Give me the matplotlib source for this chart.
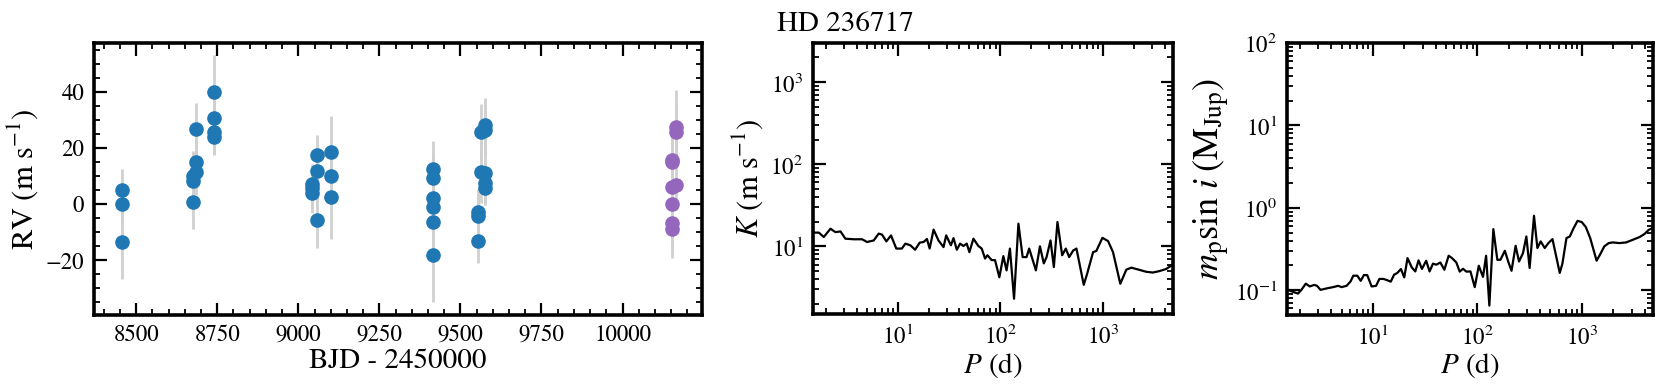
import numpy as np
import matplotlib
matplotlib.use('Agg')
import matplotlib.pyplot as plt
from matplotlib.ticker import MultipleLocator

plt.rcParams['font.family'] = 'serif'
plt.rcParams['font.serif'] = ['STIXGeneral', 'Liberation Serif', 'DejaVu Serif']
plt.rcParams['mathtext.fontset'] = 'stix'

# RV data, instrument 1 (blue)
t_1 = [8455, 8455, 8455,
       8676, 8676, 8676, 8686, 8686, 8686,
       8740, 8740, 8740, 8740,
       9043, 9043, 9043, 9059, 9059, 9059, 9102, 9102, 9102,
       9415, 9415, 9415, 9415, 9415, 9415,
       9555, 9555, 9555, 9565, 9565, 9575, 9575, 9575, 9575, 9575]
rv_1 = [4.9, 0.0, -13.5,
        0.7, 8.4, 9.9, 26.8, 14.9, 11.4,
        40.1, 30.6, 25.8, 23.9,
        7.3, 5.7, 3.9, 17.6, 12.0, -5.6, 18.6, 10.2, 2.7,
        12.6, 9.3, 2.1, -1.1, -6.4, -18.1,
        -2.6, -4.1, -13.1, 11.6, 25.9, 28.3, 26.5, 11.1, 7.5, 5.7]
err_1 = [7.5, 7.0, 13.0,
         9.5, 9.0, 9.2, 9.4, 8.0, 8.0,
         13.0, 9.0, 8.0, 6.5,
         7.0, 7.0, 7.0, 7.0, 8.0, 10.0, 12.7, 10.0, 15.0,
         10.0, 9.0, 9.0, 9.0, 12.0, 16.7,
         8.0, 8.0, 8.0, 11.0, 10.0, 9.6, 9.0, 8.0, 7.0, 6.0]

# RV data, instrument 2 (purple)
t_2 = [10151, 10151, 10151, 10151, 10151, 10151, 10165, 10165, 10165]
rv_2 = [15.8, 15.2, 6.3, 0.1, -6.6, -8.9, 27.7, 25.6, 6.9]
err_2 = [9.0, 9.0, 9.0, 9.0, 9.0, 10.2, 13.0, 10.0, 9.0]

# detection limit in K
P_K = [1.53, 1.71, 1.91, 2.22, 2.48, 2.78, 3.10, 3.74, 4.51, 5.04, 5.85, 6.54, 7.05, 7.77,
       8.62, 9.71, 11.0, 11.9, 13.3, 14.8, 16.4, 17.9, 19.3, 20.5, 22.4, 25.0, 28.0, 29.7,
       33.0, 35.0, 37.7, 40.6, 43.7, 47.1, 50.0, 54.7, 61.1, 65.9, 71.0, 74.8, 82.4, 88.8,
       97.8, 107, 115, 124, 136, 150, 165, 180, 191, 222, 243, 265, 282, 308, 332, 360,
       400, 434, 468, 512, 551, 649, 699, 800, 861, 986, 1119, 1251, 1473, 1685, 1884,
       2107, 2637, 3057, 3548, 4118, 4785]
K_lim = [14.7, 14.7, 13.0, 16.4, 14.9, 15.2, 12.4, 12.2, 12.2, 11.3, 11.8, 14.3, 13.9, 11.5,
         13.6, 9.4, 9.4, 10.8, 10.3, 9.1, 11.1, 11.3, 12.3, 9.4, 16.0, 11.8, 9.8, 13.6,
         10.3, 12.6, 9.1, 10.8, 10.1, 10.8, 8.5, 12.4, 10.1, 9.4, 7.1, 7.8, 6.8, 6.8,
         4.2, 7.6, 5.1, 9.4, 2.3, 18.9, 7.4, 7.4, 9.4, 5.1, 10.0, 6.2, 7.4, 11.8, 5.6, 19.8,
         7.8, 9.4, 7.4, 8.9, 9.4, 3.4, 4.6, 8.5, 8.8, 12.7, 11.6, 8.5, 3.5, 5.2, 5.5,
         5.3, 4.9, 4.8, 5.0, 5.3, 6.0]

# detection limit in minimum mass
P_M = [1.52, 1.65, 1.91, 2.06, 2.27, 2.48, 2.73, 2.91, 3.14, 3.59, 4.15, 4.64, 5.00, 5.58,
       6.10, 6.47, 7.07, 7.62, 8.19, 8.81, 9.70, 10.7, 11.5, 12.6, 13.7, 14.8, 15.9, 17.1,
       18.5, 19.9, 21.4, 23.5, 25.4, 27.3, 29.4, 32.3, 34.8, 37.5, 40.4, 44.1, 48.2, 53.0,
       57.1, 62.8, 67.6, 72.8, 78.3, 85.7, 94.2, 103, 113, 121, 130, 142, 155, 166, 183,
       197, 212, 232, 250, 273, 294, 316, 348, 375, 403, 441, 478, 523, 614, 651, 712,
       767, 825, 909, 1000, 1092, 1202, 1384, 1489, 1640, 1806, 1974, 2287, 2651, 3073,
       3560, 3975, 4375, 4800]
M_lim = [0.101, 0.097, 0.091, 0.101, 0.120, 0.111, 0.116, 0.113, 0.101, 0.105, 0.109, 0.113,
         0.109, 0.113, 0.128, 0.150, 0.150, 0.130, 0.153, 0.152, 0.111, 0.113, 0.137, 0.137,
         0.132, 0.127, 0.154, 0.162, 0.181, 0.143, 0.245, 0.189, 0.169, 0.230, 0.181, 0.228,
         0.169, 0.210, 0.204, 0.217, 0.177, 0.262, 0.245, 0.217, 0.168, 0.182, 0.168, 0.169,
         0.109, 0.198, 0.145, 0.262, 0.065, 0.551, 0.234, 0.234, 0.301, 0.223, 0.172, 0.346,
         0.223, 0.282, 0.449, 0.186, 0.80, 0.325, 0.391, 0.325, 0.373, 0.417, 0.162, 0.210,
         0.429, 0.449, 0.551, 0.695, 0.670, 0.583, 0.429, 0.228, 0.269, 0.340, 0.373, 0.380,
         0.373, 0.380, 0.409, 0.441, 0.480, 0.541, 0.57]


def style_axis(ax):
    '''
    thick frame, inward ticks on all four sides
    '''
    for s in ax.spines.values():
        s.set_linewidth(2.6)
    ax.tick_params(which='both', direction='in', top=True, right=True, labelsize=16.5)
    ax.tick_params(which='major', length=9, width=1.6, pad=7)
    ax.tick_params(which='minor', length=4.5, width=1.3)


fig = plt.figure(figsize=(16.61, 3.89), dpi=100)
W, H = 1661.0, 389.0
ax_rv = fig.add_axes([94 / W, 1 - 315 / H, 608 / W, 272 / H])
ax_k = fig.add_axes([813 / W, 1 - 314 / H, 360 / W, 271 / H])
ax_m = fig.add_axes([1287 / W, 1 - 315 / H, 366 / W, 272 / H])

# RV time series
ax_rv.errorbar(t_1, rv_1, yerr=err_1, fmt='none', ecolor='#d0d0d0', elinewidth=2, zorder=1)
ax_rv.errorbar(t_2, rv_2, yerr=err_2, fmt='none', ecolor='#d0d0d0', elinewidth=2, zorder=1)
ax_rv.plot(t_1, rv_1, 'o', color='#1f77b4', ms=9.5, zorder=3)
ax_rv.plot(t_2, rv_2, 'o', color='#9467bd', ms=9.5, zorder=3)
ax_rv.set_xlim(8370, 10245)
ax_rv.set_ylim(-39.5, 57.5)
ax_rv.xaxis.set_major_locator(MultipleLocator(250))
ax_rv.xaxis.set_minor_locator(MultipleLocator(50))
ax_rv.yaxis.set_major_locator(MultipleLocator(20))
ax_rv.yaxis.set_minor_locator(MultipleLocator(5))
ax_rv.set_xlabel('BJD - 2450000', fontsize=21, labelpad=2)
ax_rv.set_ylabel(r'RV (m s$^{-1}$)', fontsize=22)
style_axis(ax_rv)

# K limit
ax_k.plot(P_K, K_lim, 'k-', lw=1.6)
ax_k.set_xscale('log')
ax_k.set_yscale('log')
ax_k.set_xlim(1.5, 4800)
ax_k.set_ylim(1.5, 3000)
ax_k.set_xlabel(r'$P$ (d)', fontsize=21, labelpad=2)
ax_k.set_ylabel(r'$K$ (m s$^{-1}$)', fontsize=22)
style_axis(ax_k)

# mass limit
ax_m.plot(P_M, M_lim, 'k-', lw=1.6)
ax_m.set_xscale('log')
ax_m.set_yscale('log')
ax_m.set_xlim(1.5, 4800)
ax_m.set_ylim(0.05, 100)
ax_m.set_xlabel(r'$P$ (d)', fontsize=21, labelpad=2)
ax_m.set_ylabel(r'$m_{\rm p}\sin\,i\;({\rm M}_{\rm Jup})$', fontsize=26, labelpad=2)
style_axis(ax_m)

fig.text(777 / W, 1 - 31 / H, 'HD 236717', fontsize=21, ha='left', va='baseline')

fig.savefig('out.png', dpi=100)
